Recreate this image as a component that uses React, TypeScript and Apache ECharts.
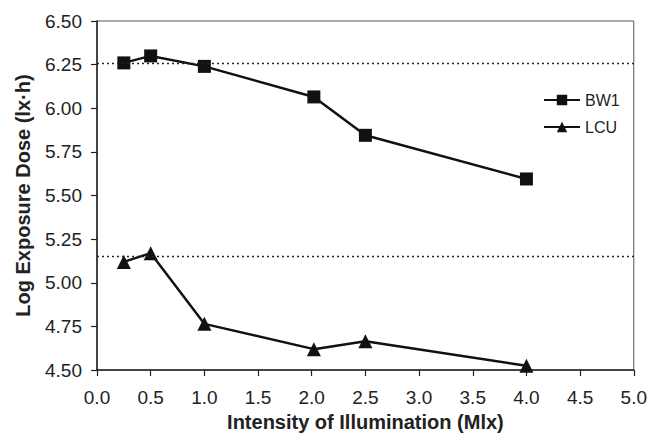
import React, { useEffect, useRef } from "react";
import * as echarts from "echarts";

// Illumination intensity (Mlx) and log exposure dose (lx·h) for each dosimeter
const bw1X = [0.25, 0.5, 1.0, 2.02, 2.5, 4.0];
const bw1Y = [6.26, 6.3, 6.24, 6.065, 5.845, 5.595];
const lcuX = [0.25, 0.5, 1.0, 2.02, 2.5, 4.0];
const lcuY = [5.12, 5.17, 4.765, 4.62, 4.665, 4.525];
// Reference levels drawn as dotted horizontal lines
const refLevels = [6.26, 5.15];

const FONT = "'Liberation Sans', Arial, sans-serif";

export default function App() {
  const ref = useRef<HTMLDivElement>(null);

  useEffect(() => {
    if (!ref.current) return;
    const chart = echarts.init(ref.current, undefined, { renderer: "svg" });
    const pair = (xs: number[], ys: number[]) => xs.map((x, i) => [x, ys[i]]);

    chart.setOption({
      animation: false,
      backgroundColor: "#ffffff",
      textStyle: { fontFamily: FONT },
      grid: {
        left: 97,
        right: 15,
        top: 21,
        bottom: 65,
        show: true,
        borderColor: "#555",
        borderWidth: 1,
      },
      legend: {
        orient: "vertical",
        left: 538,
        top: 87,
        itemWidth: 36,
        itemHeight: 13,
        itemGap: 11,
        textStyle: { fontSize: 16, color: "#222", fontFamily: FONT },
        data: ["BW1", "LCU"],
      },
      xAxis: {
        type: "value",
        min: 0,
        max: 5,
        interval: 0.5,
        name: "Intensity of Illumination (Mlx)",
        nameLocation: "middle",
        nameGap: 40,
        nameTextStyle: { fontSize: 20, fontWeight: "bold", color: "#222", fontFamily: FONT },
        axisLine: { lineStyle: { color: "#222", width: 1.5 } },
        axisTick: { inside: false, length: 6, lineStyle: { color: "#222", width: 1.2 } },
        axisLabel: {
          fontSize: 19,
          color: "#222",
          margin: 18,
          formatter: (v: number) => v.toFixed(1),
        },
        splitLine: { show: false },
      },
      yAxis: {
        type: "value",
        min: 4.5,
        max: 6.5,
        interval: 0.25,
        name: "Log Exposure Dose (lx·h)",
        nameLocation: "middle",
        nameGap: 64,
        nameTextStyle: { fontSize: 20, fontWeight: "bold", color: "#222", fontFamily: FONT },
        axisLine: { lineStyle: { color: "#222", width: 1.5 } },
        axisTick: { inside: false, length: 6, lineStyle: { color: "#222", width: 1.2 } },
        axisLabel: {
          fontSize: 19,
          color: "#222",
          margin: 15,
          formatter: (v: number) => v.toFixed(2),
        },
        splitLine: { show: false },
      },
      series: [
        {
          name: "BW1",
          type: "line",
          data: pair(bw1X, bw1Y),
          symbol: "rect",
          symbolSize: 13,
          itemStyle: { color: "#111" },
          lineStyle: { color: "#111", width: 2.5 },
          markLine: {
            silent: true,
            symbol: "none",
            label: { show: false },
            lineStyle: { color: "#222", type: [2, 3], width: 1.4 },
            data: refLevels.map((v) => ({ yAxis: v })),
          },
        },
        {
          name: "LCU",
          type: "line",
          data: pair(lcuX, lcuY),
          symbol: "triangle",
          symbolSize: 14,
          itemStyle: { color: "#111" },
          lineStyle: { color: "#111", width: 2.5 },
        },
      ],
    });

    return () => chart.dispose();
  }, []);

  return <div ref={ref} style={{ width: 650, height: 437, position: "absolute", left: 0, top: 0 }} />;
}
